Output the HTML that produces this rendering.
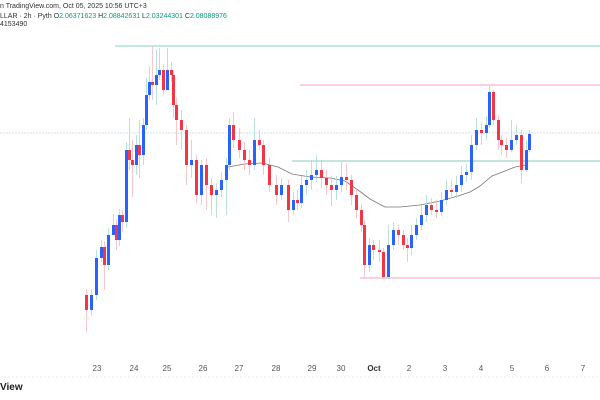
<!DOCTYPE html>
<html><head><meta charset="utf-8"><style>
body{margin:0;width:600px;height:400px;background:#fff;overflow:hidden;font-family:"Liberation Sans",sans-serif;position:relative}
.t{position:absolute;font-size:7px;color:#333;white-space:nowrap}
.g{color:#089981}
.ax{position:absolute;top:364px;font-size:8px;color:#555;transform:translateX(-50%)}
.u{fill:#2962ff}.d{fill:#f23645}
.wu{stroke:#a8dccf;stroke-width:0.8}.wd{stroke:#f7b8c1;stroke-width:0.8}
</style></head><body>
<div class="t" style="left:0;top:3px">n TradingView.com, Oct 05, 2025 10:56 UTC+3</div>
<div class="t" style="left:0;top:13px">LLAR · 2h · Pyth O<span class="g">2.06371623</span> H<span class="g">2.08842631</span> L<span class="g">2.03244301</span> C<span class="g">2.08088976</span></div>
<div class="t" style="left:0;top:21px">4153490</div>
<svg width="600" height="400" style="position:absolute;left:0;top:0">
<line x1="0" y1="133" x2="600" y2="133" stroke="#cfe0ef" stroke-width="1" stroke-dasharray="2,1"/>
<line x1="0" y1="377" x2="600" y2="377" stroke="#eee" stroke-width="1" stroke-dasharray="2,2"/>
<line x1="115" y1="46" x2="600" y2="46" stroke="#7fd4c4" stroke-width="1"/>
<line x1="300" y1="85" x2="600" y2="85" stroke="#f7a1b5" stroke-width="1"/>
<line x1="360" y1="278" x2="600" y2="278" stroke="#f7a1b5" stroke-width="1"/>
<line x1="292" y1="161" x2="600" y2="161" stroke="#88c9bb" stroke-width="1"/>
<polyline fill="none" stroke="#777" stroke-width="0.8" points="228,167 245,164 262,163 278,167 292,174 310,177 330,178 345,181 358,190 370,199 385,207 400,207 420,205 440,201 458,196 470,192 480,186 492,176 505,171 515,167 525,165"/>
<g>
<line class="wd" x1="86.5" x2="86.5" y1="289" y2="332"/><rect class="d" x="85" y="295" width="3" height="15"/>
<line class="wu" x1="91.5" x2="91.5" y1="289" y2="316"/><rect class="u" x="90" y="295" width="3" height="15"/>
<line class="wu" x1="96.5" x2="96.5" y1="250" y2="300"/><rect class="u" x="95" y="258" width="3" height="37"/>
<line class="wu" x1="101.5" x2="101.5" y1="240" y2="262"/><rect class="u" x="100" y="247" width="3" height="11"/>
<line class="wd" x1="104.5" x2="104.5" y1="241" y2="290"/><rect class="d" x="103" y="247" width="3" height="18"/>
<line class="wu" x1="108.5" x2="108.5" y1="228" y2="270"/><rect class="u" x="107" y="235" width="3" height="30"/>
<line class="wu" x1="113.5" x2="113.5" y1="214" y2="232"/><rect class="u" x="112" y="225" width="3" height="10"/>
<line class="wd" x1="116.5" x2="116.5" y1="219" y2="250"/><rect class="d" x="115" y="225" width="3" height="15"/>
<line class="wu" x1="119.5" x2="119.5" y1="209" y2="246"/><rect class="u" x="118" y="215" width="3" height="25"/>
<line class="wd" x1="122.5" x2="122.5" y1="210" y2="232"/><rect class="d" x="121" y="215" width="3" height="7"/>
<line class="wu" x1="126.5" x2="126.5" y1="142" y2="228"/><rect class="u" x="125" y="150" width="3" height="72"/>
<line class="wd" x1="129.5" x2="129.5" y1="118" y2="170"/><rect class="d" x="128" y="150" width="3" height="10"/>
<line class="wd" x1="132.5" x2="132.5" y1="140" y2="197"/><rect class="d" x="131" y="160" width="3" height="5"/>
<line class="wu" x1="136.5" x2="136.5" y1="135" y2="175"/><rect class="u" x="135" y="145" width="3" height="20"/>
<line class="wd" x1="139.5" x2="139.5" y1="120" y2="178"/><rect class="d" x="138" y="145" width="3" height="10"/>
<line class="wu" x1="143.5" x2="143.5" y1="118" y2="165"/><rect class="u" x="142" y="125" width="3" height="30"/>
<line class="wu" x1="146.5" x2="146.5" y1="78" y2="130"/><rect class="u" x="145" y="95" width="3" height="30"/>
<line class="wu" x1="149.5" x2="149.5" y1="66" y2="100"/><rect class="u" x="148" y="82" width="3" height="13"/>
<line class="wd" x1="152.5" x2="152.5" y1="46" y2="100"/><rect class="d" x="151" y="82" width="3" height="3"/>
<line class="wu" x1="156.5" x2="156.5" y1="50" y2="105"/><rect class="u" x="155" y="75" width="3" height="10"/>
<line class="wu" x1="159.5" x2="159.5" y1="48" y2="80"/><rect class="u" x="158" y="70" width="3" height="5"/>
<line class="wd" x1="163.5" x2="163.5" y1="64" y2="95"/><rect class="d" x="162" y="70" width="3" height="20"/>
<line class="wu" x1="167.5" x2="167.5" y1="48" y2="78"/><rect class="u" x="166" y="70" width="3" height="20"/>
<line class="wd" x1="171.5" x2="171.5" y1="62" y2="82"/><rect class="d" x="170" y="70" width="3" height="5"/>
<line class="wd" x1="173.5" x2="173.5" y1="70" y2="118"/><rect class="d" x="172" y="75" width="3" height="30"/>
<line class="wd" x1="176.5" x2="176.5" y1="98" y2="145"/><rect class="d" x="175" y="105" width="3" height="15"/>
<line class="wd" x1="181.5" x2="181.5" y1="110" y2="150"/><rect class="d" x="180" y="120" width="3" height="10"/>
<line class="wd" x1="186.5" x2="186.5" y1="125" y2="185"/><rect class="d" x="185" y="130" width="3" height="35"/>
<line class="wu" x1="191.5" x2="191.5" y1="140" y2="178"/><rect class="u" x="190" y="160" width="3" height="5"/>
<line class="wd" x1="196.5" x2="196.5" y1="155" y2="203"/><rect class="d" x="195" y="160" width="3" height="35"/>
<line class="wu" x1="201.5" x2="201.5" y1="160" y2="205"/><rect class="u" x="200" y="165" width="3" height="30"/>
<line class="wd" x1="206.5" x2="206.5" y1="158" y2="210"/><rect class="d" x="205" y="165" width="3" height="20"/>
<line class="wd" x1="211.5" x2="211.5" y1="178" y2="215"/><rect class="d" x="210" y="185" width="3" height="10"/>
<line class="wu" x1="216.5" x2="216.5" y1="183" y2="218"/><rect class="u" x="215" y="190" width="3" height="5"/>
<line class="wu" x1="221.5" x2="221.5" y1="172" y2="197"/><rect class="u" x="220" y="180" width="3" height="10"/>
<line class="wu" x1="226.5" x2="226.5" y1="158" y2="215"/><rect class="u" x="225" y="165" width="3" height="15"/>
<line class="wu" x1="229.5" x2="229.5" y1="118" y2="170"/><rect class="u" x="228" y="125" width="3" height="40"/>
<line class="wd" x1="233.5" x2="233.5" y1="112" y2="148"/><rect class="d" x="232" y="125" width="3" height="15"/>
<line class="wd" x1="239.5" x2="239.5" y1="128" y2="158"/><rect class="d" x="238" y="140" width="3" height="10"/>
<line class="wd" x1="244.5" x2="244.5" y1="142" y2="170"/><rect class="d" x="243" y="150" width="3" height="10"/>
<line class="wd" x1="249.5" x2="249.5" y1="150" y2="175"/><rect class="d" x="248" y="160" width="3" height="5"/>
<line class="wu" x1="254.5" x2="254.5" y1="118" y2="170"/><rect class="u" x="253" y="140" width="3" height="25"/>
<line class="wd" x1="259.5" x2="259.5" y1="130" y2="150"/><rect class="d" x="258" y="140" width="3" height="5"/>
<line class="wd" x1="263.5" x2="263.5" y1="140" y2="175"/><rect class="d" x="262" y="145" width="3" height="20"/>
<line class="wd" x1="269.5" x2="269.5" y1="158" y2="192"/><rect class="d" x="268" y="165" width="3" height="20"/>
<line class="wd" x1="276.5" x2="276.5" y1="175" y2="205"/><rect class="d" x="275" y="185" width="3" height="10"/>
<line class="wu" x1="281.5" x2="281.5" y1="178" y2="200"/><rect class="u" x="280" y="185" width="3" height="10"/>
<line class="wd" x1="288.5" x2="288.5" y1="180" y2="222"/><rect class="d" x="287" y="185" width="3" height="25"/>
<line class="wu" x1="293.5" x2="293.5" y1="192" y2="215"/><rect class="u" x="292" y="200" width="3" height="10"/>
<line class="wd" x1="297.5" x2="297.5" y1="190" y2="210"/><rect class="d" x="296" y="200" width="3" height="3"/>
<line class="wu" x1="301.5" x2="301.5" y1="176" y2="208"/><rect class="u" x="300" y="185" width="3" height="18"/>
<line class="wu" x1="306.5" x2="306.5" y1="170" y2="195"/><rect class="u" x="305" y="180" width="3" height="5"/>
<line class="wu" x1="311.5" x2="311.5" y1="160" y2="190"/><rect class="u" x="310" y="175" width="3" height="5"/>
<line class="wu" x1="316.5" x2="316.5" y1="155" y2="182"/><rect class="u" x="315" y="170" width="3" height="5"/>
<line class="wd" x1="321.5" x2="321.5" y1="160" y2="188"/><rect class="d" x="320" y="170" width="3" height="8"/>
<line class="wd" x1="326.5" x2="326.5" y1="170" y2="195"/><rect class="d" x="325" y="178" width="3" height="7"/>
<line class="wd" x1="331.5" x2="331.5" y1="176" y2="206"/><rect class="d" x="330" y="185" width="3" height="5"/>
<line class="wu" x1="336.5" x2="336.5" y1="176" y2="200"/><rect class="u" x="335" y="185" width="3" height="5"/>
<line class="wu" x1="341.5" x2="341.5" y1="162" y2="192"/><rect class="u" x="340" y="177" width="3" height="8"/>
<line class="wd" x1="346.5" x2="346.5" y1="163" y2="190"/><rect class="d" x="345" y="177" width="3" height="3"/>
<line class="wd" x1="351.5" x2="351.5" y1="175" y2="205"/><rect class="d" x="350" y="180" width="3" height="15"/>
<line class="wd" x1="356.5" x2="356.5" y1="188" y2="218"/><rect class="d" x="355" y="195" width="3" height="15"/>
<line class="wd" x1="361.5" x2="361.5" y1="204" y2="232"/><rect class="d" x="360" y="210" width="3" height="15"/>
<line class="wd" x1="364.5" x2="364.5" y1="220" y2="278"/><rect class="d" x="363" y="225" width="3" height="40"/>
<line class="wu" x1="369.5" x2="369.5" y1="238" y2="272"/><rect class="u" x="368" y="245" width="3" height="20"/>
<line class="wd" x1="373.5" x2="373.5" y1="240" y2="260"/><rect class="d" x="372" y="245" width="3" height="5"/>
<line class="wd" x1="379.5" x2="379.5" y1="240" y2="262"/><rect class="d" x="378" y="250" width="3" height="2"/>
<line class="wd" x1="383.5" x2="383.5" y1="248" y2="279"/><rect class="d" x="382" y="252" width="3" height="25"/>
<line class="wu" x1="388.5" x2="388.5" y1="225" y2="279"/><rect class="u" x="387" y="245" width="3" height="32"/>
<line class="wu" x1="393.5" x2="393.5" y1="222" y2="250"/><rect class="u" x="392" y="230" width="3" height="15"/>
<line class="wd" x1="398.5" x2="398.5" y1="225" y2="245"/><rect class="d" x="397" y="230" width="3" height="5"/>
<line class="wd" x1="403.5" x2="403.5" y1="230" y2="250"/><rect class="d" x="402" y="235" width="3" height="10"/>
<line class="wd" x1="407.5" x2="407.5" y1="238" y2="262"/><rect class="d" x="406" y="245" width="3" height="3"/>
<line class="wu" x1="411.5" x2="411.5" y1="225" y2="255"/><rect class="u" x="410" y="235" width="3" height="13"/>
<line class="wu" x1="416.5" x2="416.5" y1="218" y2="240"/><rect class="u" x="415" y="225" width="3" height="10"/>
<line class="wu" x1="421.5" x2="421.5" y1="205" y2="230"/><rect class="u" x="420" y="215" width="3" height="10"/>
<line class="wu" x1="426.5" x2="426.5" y1="195" y2="222"/><rect class="u" x="425" y="205" width="3" height="10"/>
<line class="wd" x1="431.5" x2="431.5" y1="198" y2="215"/><rect class="d" x="430" y="205" width="3" height="5"/>
<line class="wd" x1="436.5" x2="436.5" y1="200" y2="218"/><rect class="d" x="435" y="210" width="3" height="2"/>
<line class="wu" x1="441.5" x2="441.5" y1="192" y2="216"/><rect class="u" x="440" y="200" width="3" height="12"/>
<line class="wu" x1="446.5" x2="446.5" y1="180" y2="205"/><rect class="u" x="445" y="190" width="3" height="10"/>
<line class="wd" x1="451.5" x2="451.5" y1="180" y2="198"/><rect class="d" x="450" y="190" width="3" height="2"/>
<line class="wu" x1="456.5" x2="456.5" y1="176" y2="198"/><rect class="u" x="455" y="185" width="3" height="7"/>
<line class="wu" x1="461.5" x2="461.5" y1="166" y2="192"/><rect class="u" x="460" y="175" width="3" height="10"/>
<line class="wu" x1="466.5" x2="466.5" y1="164" y2="182"/><rect class="u" x="465" y="172" width="3" height="3"/>
<line class="wu" x1="471.5" x2="471.5" y1="135" y2="180"/><rect class="u" x="470" y="145" width="3" height="27"/>
<line class="wu" x1="476.5" x2="476.5" y1="118" y2="150"/><rect class="u" x="475" y="130" width="3" height="15"/>
<line class="wd" x1="481.5" x2="481.5" y1="122" y2="145"/><rect class="d" x="480" y="130" width="3" height="3"/>
<line class="wu" x1="486.5" x2="486.5" y1="116" y2="140"/><rect class="u" x="485" y="125" width="3" height="8"/>
<line class="wu" x1="489.5" x2="489.5" y1="86" y2="128"/><rect class="u" x="488" y="92" width="3" height="33"/>
<line class="wd" x1="493.5" x2="493.5" y1="90" y2="125"/><rect class="d" x="492" y="92" width="3" height="28"/>
<line class="wd" x1="498.5" x2="498.5" y1="115" y2="150"/><rect class="d" x="497" y="120" width="3" height="20"/>
<line class="wd" x1="501.5" x2="501.5" y1="135" y2="155"/><rect class="d" x="500" y="140" width="3" height="5"/>
<line class="wd" x1="506.5" x2="506.5" y1="138" y2="158"/><rect class="d" x="505" y="145" width="3" height="5"/>
<line class="wu" x1="511.5" x2="511.5" y1="120" y2="152"/><rect class="u" x="510" y="140" width="3" height="10"/>
<line class="wu" x1="516.5" x2="516.5" y1="125" y2="145"/><rect class="u" x="515" y="135" width="3" height="5"/>
<line class="wd" x1="521.5" x2="521.5" y1="130" y2="183"/><rect class="d" x="520" y="135" width="3" height="35"/>
<line class="wu" x1="526.5" x2="526.5" y1="140" y2="172"/><rect class="u" x="525" y="150" width="3" height="20"/>
<line class="wu" x1="529.5" x2="529.5" y1="130" y2="152"/><rect class="u" x="528" y="134" width="3" height="16"/>
</g>
</svg>
<div class="ax" style="left:97px">23</div><div class="ax" style="left:134px">24</div><div class="ax" style="left:167px">25</div><div class="ax" style="left:203px">26</div><div class="ax" style="left:239px">27</div><div class="ax" style="left:276px">28</div><div class="ax" style="left:312px">29</div><div class="ax" style="left:341px">30</div><div class="ax" style="left:374px;font-weight:bold;color:#333">Oct</div><div class="ax" style="left:409px">2</div><div class="ax" style="left:445px">3</div><div class="ax" style="left:481px">4</div><div class="ax" style="left:512px">5</div><div class="ax" style="left:547px">6</div><div class="ax" style="left:583px">7</div>
<div style="position:absolute;left:0;top:382px;font-size:10px;font-weight:bold;color:#222">View</div>
</body></html>
